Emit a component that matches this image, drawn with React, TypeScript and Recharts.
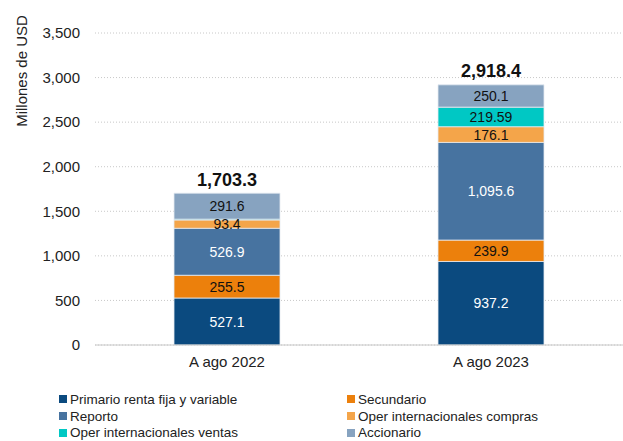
import React from 'react';
import { BarChart, Bar, XAxis, YAxis, CartesianGrid, LabelList } from 'recharts';

const categories = ['A ago 2022', 'A ago 2023'];
const primario = [527.1, 937.2];
const secundario = [255.5, 239.9];
const reporto = [526.9, 1095.6];
const operCompras = [93.4, 176.1];
const operVentas = [8.8, 219.59];
const accionario = [291.6, 250.1];
const totals = [1703.3, 2918.4];
const yTicks = [0, 500, 1000, 1500, 2000, 2500, 3000, 3500];

const series = [
  { key: 'primario', name: 'Primario renta fija y variable', color: '#0B4A7F', text: '#ffffff', values: primario },
  { key: 'secundario', name: 'Secundario', color: '#EC800C', text: '#111111', values: secundario },
  { key: 'reporto', name: 'Reporto', color: '#4773A0', text: '#ffffff', values: reporto },
  { key: 'operCompras', name: 'Oper internacionales compras', color: '#F4A54A', text: '#111111', values: operCompras },
  { key: 'operVentas', name: 'Oper internacionales ventas', color: '#00C8C4', text: '#111111', values: operVentas },
  { key: 'accionario', name: 'Accionario', color: '#87A3C0', text: '#111111', values: accionario },
];

const data = categories.map((c, i) => {
  const row: Record<string, any> = { name: c, total: totals[i] };
  series.forEach(s => { row[s.key] = s.values[i]; });
  return row;
});

const font = '"Liberation Sans", Arial, sans-serif';

const fmt = (v: number) => {
  const parts = String(v).split('.');
  parts[0] = Number(parts[0]).toLocaleString('en-US');
  return parts.join('.');
};

const segmentLabel = (color: string) => (props: any) => {
  const { x, y, width, height, value } = props;
  if (value == null || height < 4) return null;
  return (
    <text x={x + width / 2} y={y + height / 2} dy="0.36em" textAnchor="middle" fill={color} fontSize={14} fontFamily={font}>
      {fmt(value)}
    </text>
  );
};

const totalLabel = (props: any) => {
  const { x, y, width, index } = props;
  return (
    <text x={x + width / 2} y={y - 14} dy="0.36em" textAnchor="middle" fill="#111" fontSize={18} fontWeight="bold" fontFamily={font}>
      {fmt(totals[index])}
    </text>
  );
};

export default function App() {
  return (
    <div style={{ position: 'absolute', left: 0, top: 0, width: 623, height: 441, background: '#fff', fontFamily: font }}>
      <BarChart width={623} height={380} data={data} margin={{ top: 33, right: 0, left: 0, bottom: 0 }} barSize={106}>
        <CartesianGrid vertical={false} stroke="#c8c8c8" strokeDasharray="1 2" />
        <XAxis
          dataKey="name"
          height={35}
          tickSize={0}
          tickMargin={11}
          axisLine={{ stroke: '#c8c8c8' }}
          tick={{ fill: '#222', fontSize: 15, fontFamily: font }}
        />
        <YAxis
          width={95}
          domain={[0, 3500]}
          ticks={yTicks}
          tickSize={0}
          tickMargin={15}
          axisLine={false}
          tickFormatter={(v: number) => v.toLocaleString('en-US')}
          tick={{ fill: '#222', fontSize: 15, fontFamily: font }}
          label={{
            content: () => (
              <text x={22} y={71} transform="rotate(-90 22 71)" textAnchor="middle" dy="0.36em" fill="#222" fontSize={15} fontFamily={font}>
                Millones de  USD
              </text>
            ),
          }}
        />
        {series.map((s, i) => (
          <Bar key={s.key} dataKey={s.key} name={s.name} stackId="a" fill={s.color} stroke="#e6ebf1" strokeWidth={0.8} isAnimationActive={false}>
            <LabelList dataKey={s.key} content={segmentLabel(s.text)} />
            {i === series.length - 1 && <LabelList dataKey="total" content={totalLabel} />}
          </Bar>
        ))}
      </BarChart>
      <div style={{ position: 'absolute', left: 59, top: 391, display: 'grid', gridTemplateColumns: '288px 280px', rowGap: 0 }}>
        {series.map(s => (
          <div key={s.key} style={{ display: 'flex', alignItems: 'center', height: 16.7, fontSize: 13.5, color: '#222', whiteSpace: 'nowrap' }}>
            <span style={{ display: 'inline-block', width: 8, height: 8, background: s.color, marginRight: 3 }} />
            {s.name}
          </div>
        ))}
      </div>
    </div>
  );
}
